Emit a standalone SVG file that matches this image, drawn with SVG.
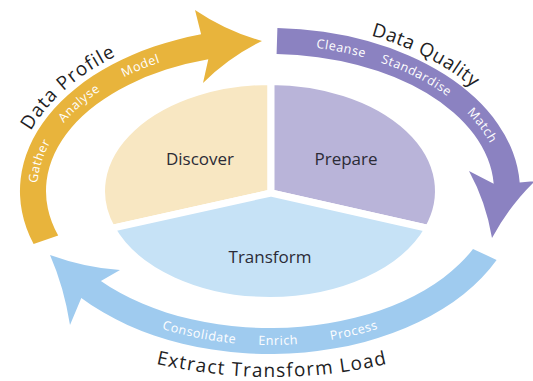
<svg xmlns="http://www.w3.org/2000/svg" width="533" height="381" viewBox="0 0 533 381">
<defs>
<style>
.node-label{font-family:"Open Sans","Noto Sans","Liberation Sans",sans-serif;font-size:17px;fill:#2b2b36;text-anchor:middle}
.band-label{font-family:"Open Sans","Noto Sans","Liberation Sans",sans-serif;font-size:12.5px;fill:#ffffff;letter-spacing:0.6px;text-anchor:middle}
.stage-label{font-family:"Open Sans","Noto Sans","Liberation Sans",sans-serif;font-size:19px;fill:#1e1e24;text-anchor:middle}
.sector{stroke:#ffffff;stroke-width:7;stroke-linejoin:round}
</style>
<path id="p-gather" d="M 37.6,201.2 A 233 146 0 0 1 60.6,127.0"/>
<path id="p-analyse" d="M 51.1,141.1 A 233 146 0 0 1 120.2,79.2"/>
<path id="p-model" d="M 94.2,95.2 A 233 146 0 0 1 194.1,53.0"/>
<path id="p-cleanse" d="M 282.2,45.2 A 233 146 0 0 1 396.9,68.6"/>
<path id="p-standardise" d="M 349.7,53.8 A 233 146 0 0 1 471.8,118"/>
<path id="p-match" d="M 448.5,97.2 A 233 146 0 0 1 499.5,165.6"/>
<path id="p-consolidate" d="M 115.1,309.0 A 241 154 0 0 0 286.8,344.6"/>
<path id="p-enrich" d="M 215.8,341.1 A 241 154 0 0 0 340.5,338.3"/>
<path id="p-process" d="M 295.2,344.2 A 241 154 0 0 0 411.7,315.6"/>
<path id="p-profile" d="M 15.0,176.6 A 256 169 0 0 1 161.8,37.8"/>
<path id="p-quality" d="M 321.0,25.4 A 256 169 0 0 1 506.5,126.3"/>
<path id="p-etl" d="M 100,347.1 A 509 509 0 0 0 444,347.1"/>
</defs>
<rect width="533" height="381" fill="#ffffff"/>

<g id="discover">
<path class="sector" fill="#f8e7c2" d="M 271,193 L 271,81.5 A 168.5 109.5 0 0 0 111.6,228.3 Z"/>
<text class="node-label" x="200" y="165">Discover</text>
</g>
<g id="prepare">
<path class="sector" fill="#b9b4d9" d="M 271,193 L 428.3,228.5 A 168.5 109.5 0 0 0 271,81.5 Z"/>
<text class="node-label" x="346" y="165">Prepare</text>
</g>
<g id="transform">
<path class="sector" fill="#c6e2f6" d="M 271,193 L 111.6,228.3 A 168.5 109.5 0 0 0 428.3,228.5 Z"/>
<text class="node-label" x="270" y="263">Transform</text>
</g>

<g id="connectors">
<g id="arrow-data-profile">
<path fill="#e8b43c" d="M 33.6,244.1 A 250 163 0 0 1 201.1,34.3 L 195,10 Q 226,31 262,41 Q 229,57 203,83 L 208.3,59.3 A 224 137 0 0 0 58.2,235.6 Z"/>
<text class="band-label"><textPath href="#p-gather" startOffset="50%">Gather</textPath></text>
<text class="band-label"><textPath href="#p-analyse" startOffset="50%">Analyse</textPath></text>
<text class="band-label"><textPath href="#p-model" startOffset="50%">Model</textPath></text>
<text class="stage-label" letter-spacing="1"><textPath href="#p-profile" startOffset="50%">Data Profile</textPath></text>
</g>
<g id="arrow-data-quality">
<path fill="#8b82c1" d="M 277.4,28.1 A 250 163 0 0 1 519.7,182.5 L 535,181 Q 510,205 492,238 Q 486,202 469,171 L 493.7,183.8 A 224 137 0 0 0 276.6,54.1 Z"/>
<text class="band-label"><textPath href="#p-cleanse" startOffset="50%">Cleanse</textPath></text>
<text class="band-label"><textPath href="#p-standardise" startOffset="50%">Standardise</textPath></text>
<text class="band-label"><textPath href="#p-match" startOffset="50%">Match</textPath></text>
<text class="stage-label" letter-spacing="0.5"><textPath href="#p-quality" startOffset="50%">Data Quality</textPath></text>
</g>
<g id="arrow-etl">
<path fill="#9fcbef" d="M 496.6,259.9 A 250 163 0 0 1 81.3,297.9 L 70,325 Q 64,287 50,255 Q 86,268 120,270 L 100.9,280.9 A 224 137 0 0 0 473,248.9 Z"/>
<text class="band-label"><textPath href="#p-consolidate" startOffset="50%">Consolidate</textPath></text>
<text class="band-label"><textPath href="#p-enrich" startOffset="50%">Enrich</textPath></text>
<text class="band-label"><textPath href="#p-process" startOffset="50%">Process</textPath></text>
<text class="stage-label" letter-spacing="1.2"><textPath href="#p-etl" startOffset="50%">Extract Transform Load</textPath></text>
</g>
</g>
</svg>
